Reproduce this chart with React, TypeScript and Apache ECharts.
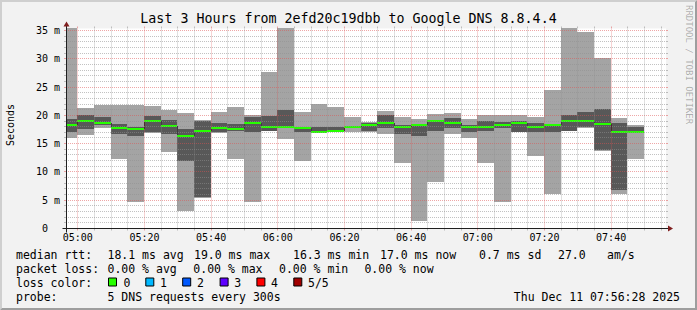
import React, { useEffect, useRef } from "react";
import * as echarts from "echarts";

// ---------- data ----------
const TITLE = "Last 3 Hours from 2efd20c19dbb to Google DNS 8.8.4.4";
const plotStart = "04:56:28";
const plotEnd = "07:56:28";
const barEndTimes = [
  "05:00", "05:05", "05:10", "05:15", "05:20", "05:25", "05:30", "05:35", "05:40", "05:45",
  "05:50", "05:55", "06:00", "06:05", "06:10", "06:15", "06:20", "06:25", "06:30", "06:35",
  "06:40", "06:45", "06:50", "06:55", "07:00", "07:05", "07:10", "07:15", "07:20", "07:25",
  "07:30", "07:35", "07:40", "07:45", "07:50",
];
// five pings per step, sorted: min, 2nd, median, 4th, max (ms)
const minPing = [16.0, 16.5, 17.8, 12.3, 4.7, 16.9, 13.5, 3.1, 5.4, 16.9, 12.3, 4.7, 17.2, 15.9, 11.95, 16.85, 17.0, 17.05, 17.08, 16.7, 11.6, 1.35, 8.25, 16.7, 16.0, 11.6, 4.7, 17.0, 12.77, 6.06, 17.2, 17.85, 13.75, 6.06, 12.25];
const lowPing = [17.0, 17.5, 18.3, 16.75, 16.35, 17.1, 16.7, 11.9, 5.5, 17.05, 17.15, 17.0, 17.3, 17.85, 17.0, 16.9, 17.15, 17.8, 17.28, 17.8, 16.7, 16.37, 17.25, 17.82, 17.0, 17.25, 17.75, 17.05, 17.03, 17.05, 17.25, 17.9, 13.8, 6.8, 16.9];
const medianPing = [18.3, 19.0, 18.65, 17.75, 17.55, 19.0, 18.1, 16.35, 17.3, 17.75, 17.6, 18.67, 17.97, 18.0, 17.7, 17.05, 17.22, 17.97, 18.3, 18.7, 17.95, 18.28, 18.97, 18.67, 17.95, 17.95, 18.28, 18.67, 17.95, 18.3, 19.0, 19.0, 18.4, 17.0, 17.0];
const highPing = [19.4, 20.0, 19.7, 18.4, 18.0, 19.95, 19.1, 17.5, 19.0, 18.67, 18.45, 19.68, 19.85, 20.9, 17.85, 17.9, 17.9, 18.1, 18.7, 20.1, 18.25, 18.52, 19.25, 19.55, 18.38, 18.95, 18.8, 18.95, 18.57, 18.5, 20.0, 20.55, 21.1, 18.63, 17.92];
const maxPing = [36.5, 21.25, 21.9, 21.9, 21.9, 21.6, 20.95, 20.35, 19.25, 20.6, 21.4, 20.0, 27.65, 36.5, 20.55, 21.95, 21.42, 19.68, 18.85, 20.7, 19.68, 19.33, 20.2, 20.37, 19.3, 20.0, 20.0, 20.0, 19.66, 24.43, 36.5, 34.72, 30.1, 19.45, 18.25];

const xTickLabels = ["05:00", "05:20", "05:40", "06:00", "06:20", "06:40", "07:00", "07:20", "07:40"];
const yTickValues = [0, 5, 10, 15, 20, 25, 30, 35];
const yMax = 35.35;

const rttLabel = "median rtt:";
const rttStats = ["18.1 ms avg", "19.0 ms max", "16.3 ms min", "17.0 ms now", "0.7 ms sd", "27.0", "am/s"];
const lossLabel = "packet loss:";
const lossStats = ["0.00 % avg", "0.00 % max", "0.00 % min", "0.00 % now"];
const colorLabel = "loss color:";
const lossLevels = ["0", "1", "2", "3", "4", "5/5"];
const lossColors = ["#26ff00", "#00b8ff", "#0059ff", "#5e00ff", "#ff0000", "#a10000"];
const probeLabel = "probe:";
const probeText = "5 DNS requests every 300s";
const stampText = "Thu Dec 11 07:56:28 2025";
const watermark = "RRDTOOL / TOBI OETIKER";
const yUnitLabel = "Seconds";

// ---------- style ----------
const MONO = "'DejaVu Sans Mono', monospace";
const LIGHT = "#a4a4a4";
const DARK = "#585858";
const GREEN = "#26ff00";
const GRID_MINOR = "rgba(143,143,143,0.55)";
const GRID_MAJOR = "rgba(222,79,79,0.5)";

const toMin = (s: string) => {
  const [h, m, sec] = s.split(":").map(Number);
  return h * 60 + m + (sec || 0) / 60;
};
const xMin = toMin(plotStart);
const xMax = toMin(plotEnd);
const fmtTime = (v: number) => {
  const h = Math.floor(v / 60);
  const m = Math.round(v - h * 60);
  return String(h).padStart(2, "0") + ":" + String(m).padStart(2, "0");
};

export default function App() {
  const ref = useRef<HTMLDivElement>(null);
  useEffect(() => {
    document.body.style.margin = "0";
    if (!ref.current) return;
    const chart = echarts.init(ref.current, null, { renderer: "svg" });

    const smokeData = barEndTimes.map((e, i) => [
      i === 0 ? xMin : toMin(barEndTimes[i - 1]),
      toMin(e),
      minPing[i], lowPing[i], medianPing[i], highPing[i], maxPing[i],
      i === 0 ? medianPing[0] : medianPing[i - 1],
    ]);

    const gridData: number[][] = [];
    for (let v = 1; v <= 35; v++) gridData.push([0, v]);
    for (let t = 300; t < xMax; t += 5) gridData.push([1, t]);

    const smokeRender = (params: any, api: any) => {
      const cs = params.coordSys;
      const top = Math.floor(cs.y);
      const bottom = cs.y + cs.height;
      const x0 = Math.floor(api.coord([api.value(0), 0])[0]);
      const x1 = Math.floor(api.coord([api.value(1), 0])[0]);
      const Y = (v: number) => Math.max(top, Math.min(bottom, Math.round(api.coord([xMin, v])[1])));
      const rect = (lo: number, hi: number, fill: string) => {
        const yT = Y(hi);
        const yB = Y(lo);
        return { type: "rect", shape: { x: x0, y: yT, width: x1 - x0, height: yB - yT }, style: { fill } };
      };
      const ym = Y(api.value(4));
      const yp = Y(api.value(7));
      return {
        type: "group",
        children: [
          rect(api.value(2), api.value(6), LIGHT),
          rect(api.value(3), api.value(5), DARK),
          { type: "line", shape: { x1: x0 + 0.5, y1: yp, x2: x0 + 0.5, y2: ym }, style: { stroke: "#202020", lineWidth: 1 } },
          { type: "rect", shape: { x: x0, y: ym - 1, width: x1 - x0, height: 2 }, style: { fill: GREEN } },
        ],
      };
    };

    const gridRender = (params: any, api: any) => {
      const cs = params.coordSys;
      const kind = api.value(0);
      const v = api.value(1);
      const left = cs.x, right = cs.x + cs.width;
      const top = cs.y, bottom = cs.y + cs.height;
      if (kind === 0) {
        const major = v % 5 === 0;
        const c = major ? GRID_MAJOR : GRID_MINOR;
        const y = Math.round(api.coord([xMin, v])[1] - 0.5) + 0.5;
        return {
          type: "group",
          children: [
            { type: "line", shape: { x1: left, y1: y, x2: right, y2: y }, style: { stroke: c, lineWidth: 1, lineDash: [1, 1] } },
            { type: "line", shape: { x1: left - 2, y1: y, x2: left, y2: y }, style: { stroke: c, lineWidth: 1 } },
            { type: "line", shape: { x1: right, y1: y, x2: right + 2, y2: y }, style: { stroke: c, lineWidth: 1 } },
          ],
        };
      }
      const major = Math.round(v) % 20 === 0;
      const c = major ? GRID_MAJOR : GRID_MINOR;
      const x = Math.floor(api.coord([v, 0])[0]) + 0.5;
      return {
        type: "group",
        children: [
          { type: "line", shape: { x1: x, y1: bottom, x2: x, y2: top }, style: { stroke: c, lineWidth: 1, lineDash: [1, 1] } },
          { type: "line", shape: { x1: x, y1: bottom, x2: x, y2: bottom + 2 }, style: { stroke: c, lineWidth: 1 } },
          { type: "line", shape: { x1: x, y1: top - 2, x2: x, y2: top }, style: { stroke: c, lineWidth: 1 } },
        ],
      };
    };

    const frameRender = (params: any) => {
      const cs = params.coordSys;
      const xo = Math.floor(cs.x) + 0.5;
      const yo = cs.y + cs.height;
      const xe = cs.x + cs.width;
      const yt = cs.y;
      return {
        type: "group",
        children: [
          { type: "line", shape: { x1: xo - 4, y1: yo, x2: xe + 4, y2: yo }, style: { stroke: "#1f1f1f", lineWidth: 1 } },
          { type: "line", shape: { x1: xo, y1: yo + 4, x2: xo, y2: yt - 4 }, style: { stroke: "#1f1f1f", lineWidth: 1 } },
          { type: "polygon", shape: { points: [[xe + 2, yo - 3], [xe + 2, yo + 3], [xe + 7, yo]] }, style: { fill: "#801f1f" } },
          { type: "polygon", shape: { points: [[xo - 3, yt - 2], [xo + 3, yt - 2], [xo, yt - 7]] }, style: { fill: "#801f1f" } },
        ],
      };
    };

    const txt = (text: string, x: number, y: number, extra: any = {}) => ({
      type: "text",
      x, y,
      silent: true,
      style: { text, fill: "#000", font: `11.5px ${MONO}`, align: "left", verticalAlign: "middle", ...extra },
    });

    const rttX = [107.5, 194, 293, 380, 479, 558, 607];
    const lossX = [107.5, 193.3, 279, 364.4];
    const boxX = [108, 145.3, 182.2, 219.6, 256.4, 293.3];
    const levelX = [123.6, 160, 196.9, 234.2, 271, 308];
    const rows = [254.5, 268.5, 282.5, 296.5];

    const graphics: any[] = [
      { type: "polygon", silent: true, shape: { points: [[0, 310], [2, 308], [2, 2], [695, 2], [697, 0], [0, 0]] }, style: { fill: "#cfcfcf" } },
      { type: "polygon", silent: true, shape: { points: [[2, 308], [695, 308], [695, 2], [697, 0], [697, 310], [0, 310]] }, style: { fill: "#9e9e9e" } },
      txt(TITLE, 348.5, 18.5, { align: "center", font: `13.3px ${MONO}` }),
      { type: "text", x: 693, y: 5, rotation: -Math.PI / 2, silent: true, style: { text: watermark, fill: "rgba(0,0,0,0.3)", font: `9px ${MONO}`, align: "left", verticalAlign: "top" } },
      { type: "text", x: 10, y: 125, rotation: Math.PI / 2, silent: true, style: { text: yUnitLabel, fill: "#000", font: `10px ${MONO}`, align: "center", verticalAlign: "middle" } },
      txt(rttLabel, 16, rows[0]),
      ...rttStats.map((s, i) => txt(s, rttX[i], rows[0])),
      txt(lossLabel, 16, rows[1]),
      ...lossStats.map((s, i) => txt(s, lossX[i], rows[1])),
      txt(colorLabel, 16, rows[2]),
      ...lossColors.map((c, i) => ({ type: "rect", silent: true, shape: { x: boxX[i] + 0.5, y: rows[2] - 4.5, width: 8, height: 8 }, style: { fill: c, stroke: "#000", lineWidth: 1 } })),
      ...lossLevels.map((s, i) => txt(s, levelX[i], rows[2])),
      txt(probeLabel, 16, rows[3]),
      txt(probeText, 107.5, rows[3]),
      txt(stampText, 680, rows[3], { align: "right" }),
    ];

    const xTickValues = xTickLabels.map((s) => toMin(s));

    chart.setOption({
      animation: false,
      backgroundColor: "#f2f2f2",
      grid: { show: true, left: 66, top: 28.5, width: 600, height: 200, backgroundColor: "#ffffff", borderWidth: 0, containLabel: false, outerBoundsMode: "none" },
      xAxis: {
        type: "value",
        min: xMin,
        max: xMax,
        axisLine: { show: false },
        axisTick: { show: false },
        splitLine: { show: false },
        axisLabel: {
          customValues: xTickValues,
          formatter: (v: number) => fmtTime(v),
          fontFamily: MONO,
          fontSize: 10,
          color: "#000",
          margin: 4,
        },
      },
      yAxis: {
        type: "value",
        min: 0,
        max: yMax,
        axisLine: { show: false },
        axisTick: { show: false },
        splitLine: { show: false },
        axisLabel: {
          customValues: yTickValues,
          formatter: (v: number) => (v === 0 ? "{z|0}" : `${v} m`),
          fontFamily: MONO,
          fontSize: 10,
          color: "#000",
          margin: 6,
          rich: { z: { fontFamily: MONO, fontSize: 10, color: "#000", padding: [0, 12, 0, 0] } },
        },
      },
      series: [
        { type: "custom", name: "smoke", silent: true, clip: false, z: 2, data: smokeData, encode: { x: [0, 1], y: [2, 6] }, renderItem: smokeRender },
        { type: "custom", name: "grid", silent: true, clip: false, z: 3, data: gridData, encode: { x: 1, y: 1 }, renderItem: gridRender },
        { type: "custom", name: "frame", silent: true, clip: false, z: 4, data: [[xMin, 0]], encode: { x: 0, y: 1 }, renderItem: frameRender },
      ],
      graphic: graphics,
    });
    return () => chart.dispose();
  }, []);
  return <div ref={ref} style={{ width: 697, height: 310 }} />;
}
